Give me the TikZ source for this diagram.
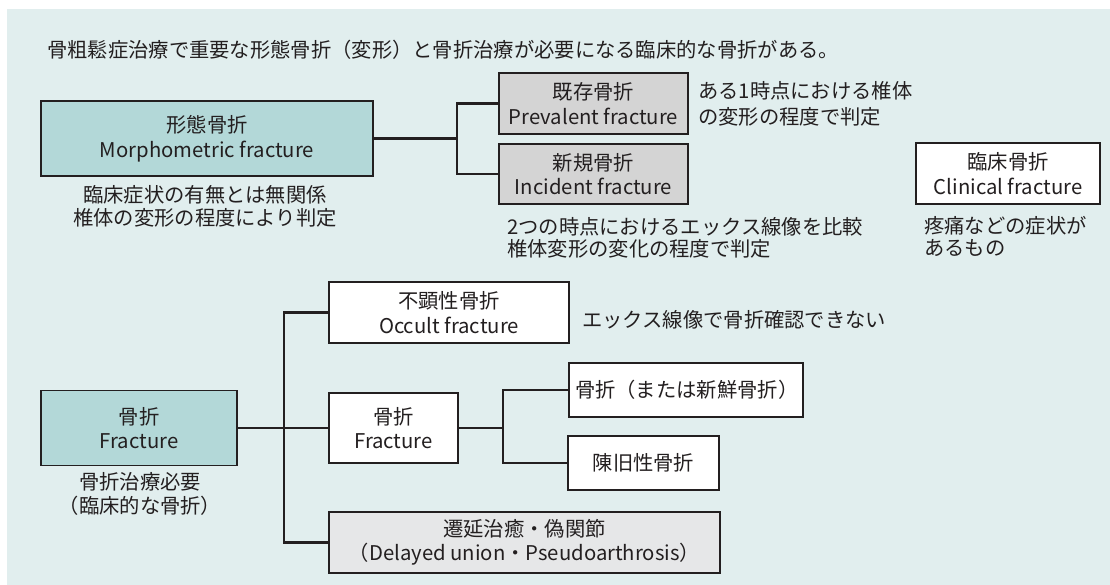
\documentclass[tikz,border=0pt]{standalone}
\usepackage{fontspec}
\setmainfont{Noto Sans CJK JP}
\usepackage{tikz}
\usetikzlibrary{calc}
\definecolor{bgblue}{RGB}{225,238,238}
\definecolor{teal1}{RGB}{179,216,216}
\definecolor{gray1}{RGB}{212,212,212}
\definecolor{gray2}{RGB}{230,231,232}
\definecolor{ink}{RGB}{35,31,32}
\tikzset{
  box/.style={draw=ink, line width=1.4pt, inner sep=0pt, align=center, text=ink,
    font=\fontsize{20.3}{24.5}\selectfont},
  note/.style={inner sep=0pt, text=ink, font=\fontsize{20.3}{23}\selectfont},
  link/.style={draw=ink, line width=2.2pt},
}

\begin{document}
\begin{tikzpicture}[x=1pt, y=-1pt]
		%%%%% START %%%%%
		\useasboundingbox (0, 0) rectangle (1110, 585);
		\fill[bgblue] (7, 9) rectangle (1110, 585);
		
		\node[note, anchor=west] (title) at (47, 50) {骨粗鬆症治療で重要な形態骨折（変形）と骨折治療が必要になる臨床的な骨折がある。};
		
		% upper part
		\node[box, fill=teal1, minimum width=332, minimum height=75] (morph) at (207, 138.5) {形態骨折\\Morphometric fracture};
		\node[box, fill=gray1, minimum width=189, minimum height=61] (prev) at (593.5, 103.5) {既存骨折\\Prevalent fracture};
		\node[box, fill=gray1, minimum width=189, minimum height=60] (inc) at (593.5, 174) {新規骨折\\Incident fracture};
		\node[box, fill=white, minimum width=184, minimum height=61] (clin) at (1008, 173.5) {臨床骨折\\Clinical fracture};
		
		\node[note, align=center] (morphnote) at (205, 206.5) {臨床症状の有無とは無関係\\椎体の変形の程度により判定};
		\node[note, align=left, anchor=west, font=\fontsize{20.3}{26}\selectfont] (prevnote) at (698, 104) {ある1時点における椎体\\の変形の程度で判定};
		\node[note, align=left, anchor=west, font=\fontsize{20.3}{22}\selectfont] (incnote) at (507, 237.5) {2つの時点におけるエックス線像を比較\\椎体変形の変化の程度で判定};
		\node[note, align=left, anchor=west, font=\fontsize{20.3}{22}\selectfont] (clinnote) at (924, 236) {疼痛などの症状が\\あるもの};
		
		\coordinate (j1) at (457, 138.5);
		\draw[link] (morph.east) -- (j1);
		\draw[link] (prev.west) -| (j1) |- (inc.west);
		
		% lower part
		\node[box, fill=teal1, minimum width=196, minimum height=75] (frac) at (139, 428) {骨折\\Fracture};
		\node[box, fill=white, minimum width=240, minimum height=61] (occ) at (449, 312.5) {不顕性骨折\\Occult fracture};
		\node[box, fill=white, minimum width=129, minimum height=70] (frac2) at (393.5, 428) {骨折\\Fracture};
		\node[box, fill=gray2, minimum width=391, minimum height=61] (delay) at (524.5, 542.5) {遷延治癒・偽関節\\（Delayed union・Pseudoarthrosis）};
		\node[box, fill=white, minimum width=234, minimum height=54, text width=222, align=right] (fresh) at (686, 390) {骨折（または新鮮骨折）};
		\node[box, fill=white, minimum width=151, minimum height=54] (old) at (643.5, 463) {陳旧性骨折};
		
		\node[note, align=center, font=\fontsize{20.3}{24}\selectfont] (fracnote) at (140, 494) {骨折治療必要\\（臨床的な骨折）};
		\node[note, anchor=west] (occnote) at (582, 320) {エックス線像で骨折確認できない};
		
		\coordinate (j2) at (284, 428);
		\draw[link] (frac.east) -- (frac2.west);
		\draw[link] (occ.west) -| (j2) |- (delay.west);
		
		\coordinate (j3) at (503, 428);
		\draw[link] (frac2.east) -- (j3);
		\draw[link] (fresh.west) -| (j3) |- (old.west);
		
		%%%%% END %%%%%
\end{tikzpicture}
\end{document}
